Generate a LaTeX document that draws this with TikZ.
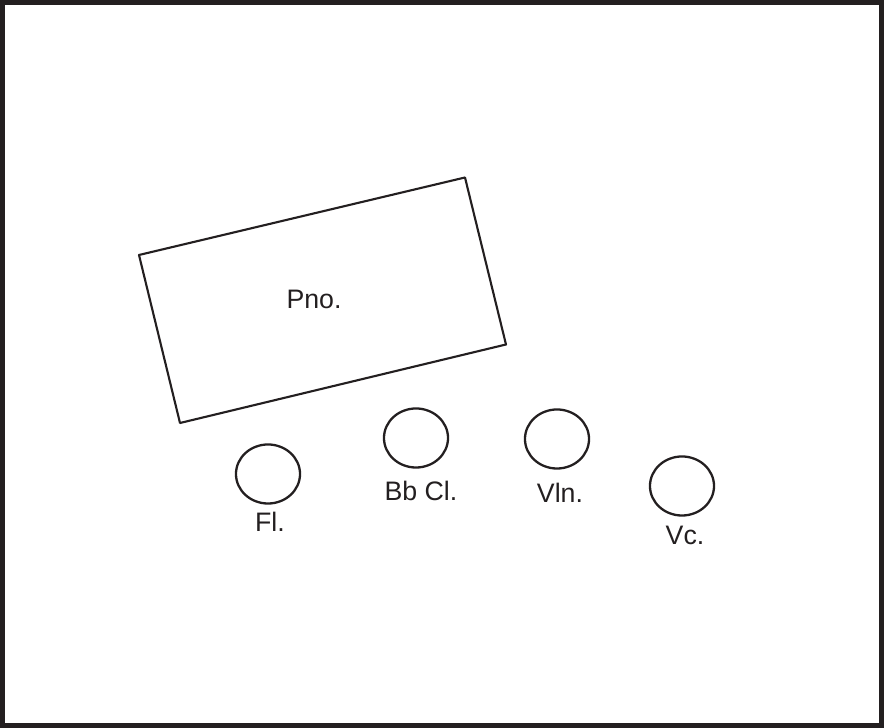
\documentclass[tikz,border=0pt]{standalone}
\usepackage{fontspec}
\setmainfont{Liberation Sans}
\usetikzlibrary{shapes.geometric}
\definecolor{ink}{HTML}{231F20}
\begin{document}
\begin{tikzpicture}[x=0.01cm, y=-0.01cm, line cap=round, line join=round, font=\fontsize{7.6}{9}\selectfont, color=ink]
	\tikzset{seat/.style={draw, ellipse, line width=0.65pt, inner sep=0pt, minimum width=0.64cm, minimum height=0.59cm},
		name style/.style={anchor=base, inner sep=0pt}}
	\useasboundingbox (0,0) rectangle (884,728);
	\draw[line width=0.05cm, line cap=butt, line join=miter] (2.6,2.6) rectangle (881.4,725.4);
	\draw[line width=0.6pt] (139,255)--(465,177.5)--(506,344.5)--(180,423)--cycle;
	\node[name style] (pno) at (314,309) {Pno.};
	\node[seat] (fl) at (268,474) {};
	\node[seat] (cl) at (416,438) {};
	\node[seat] (vln) at (557,439) {};
	\node[seat] (vc) at (682,486) {};
	\node[name style] (flname) at (270,532) {Fl.};
	\node[name style] (clname) at (421,501) {Bb Cl.};
	\node[name style] (vlnname) at (560,503) {Vln.};
	\node[name style] (vcname) at (685,545) {Vc.};
\end{tikzpicture}
\end{document}
